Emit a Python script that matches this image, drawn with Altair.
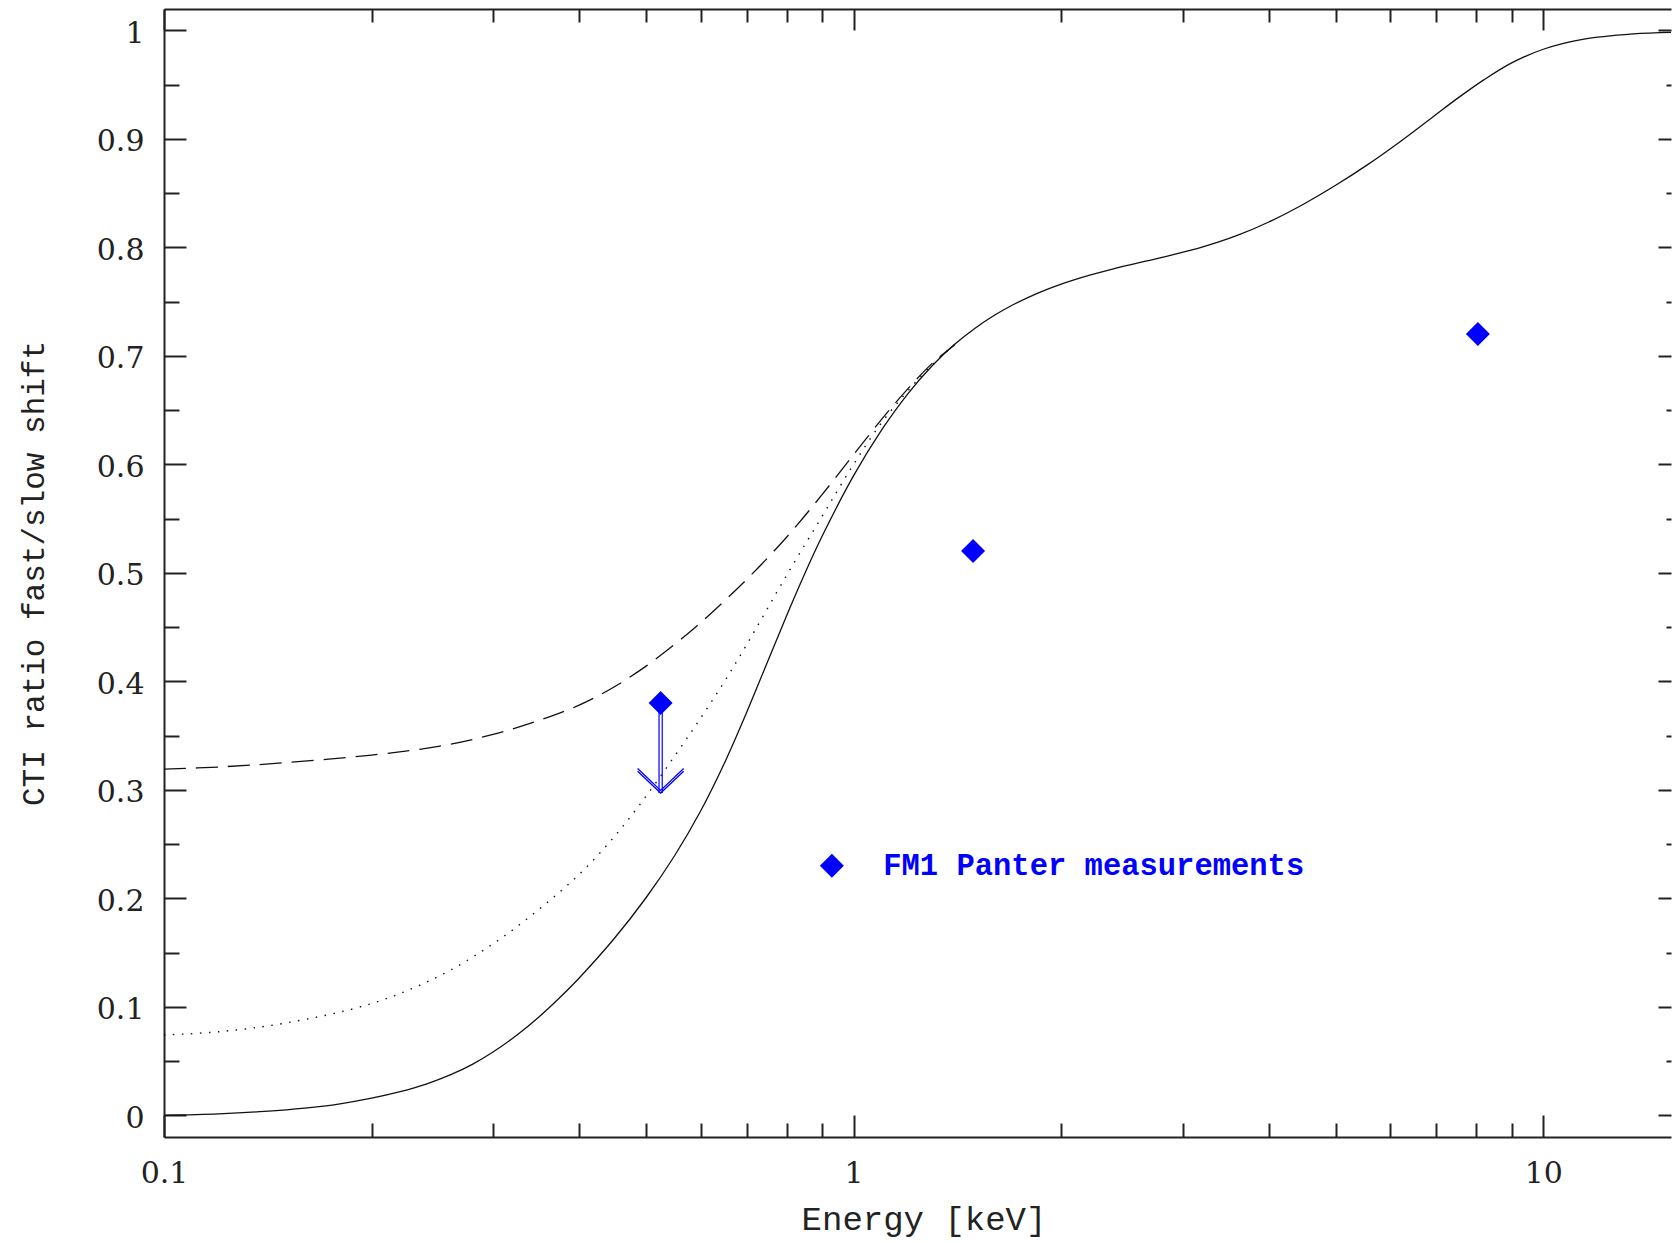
import altair as alt
import pandas as pd

# ---------------- data ----------------
# solid curve
E_solid = [0.1, 0.12, 0.14, 0.16, 0.18, 0.2, 0.22, 0.24, 0.26, 0.28,
           0.3, 0.325, 0.35, 0.375, 0.4, 0.45, 0.5, 0.55, 0.6, 0.65,
           0.7, 0.75, 0.8, 0.85, 0.9, 1.0, 1.1, 1.2, 1.3, 1.4,
           1.5, 1.6, 1.7, 1.85, 2.0, 2.2, 2.4, 2.65, 2.9, 3.2,
           3.6, 4.0, 4.45, 5.0, 5.55, 6.2, 6.93, 7.5, 8.2, 9.0,
           10.0, 11.4, 13.5, 15.32]
v_solid = [0.0000, 0.0014, 0.0036, 0.0066, 0.0106, 0.0158, 0.0218, 0.0288, 0.0372, 0.0470,
           0.0583, 0.0740, 0.0909, 0.1086, 0.1266, 0.1632, 0.2005, 0.2392, 0.2804, 0.3249,
           0.3716, 0.4178, 0.4609, 0.4996, 0.5336, 0.5895, 0.6323, 0.6654, 0.6908, 0.7103,
           0.7254, 0.7373, 0.7468, 0.7578, 0.7661, 0.7744, 0.7807, 0.7872, 0.7930, 0.8001,
           0.8109, 0.8233, 0.8383, 0.8571, 0.8757, 0.8973, 0.9205, 0.9370, 0.9543, 0.9699,
           0.9825, 0.9916, 0.9967, 0.9981]

# dotted curve
E_dot = [0.1, 0.12, 0.15, 0.2, 0.25, 0.3, 0.35, 0.4, 0.45, 0.5,
         0.55, 0.6, 0.65, 0.7, 0.8, 0.9, 1.0, 1.1, 1.2, 1.3, 1.4]
v_dot = [0.074, 0.077, 0.085, 0.103, 0.128, 0.158, 0.190, 0.222, 0.257, 0.294,
         0.331, 0.366, 0.400, 0.434, 0.498, 0.552, 0.600, 0.639, 0.668, 0.692, 0.710]

# dashed curve
E_dash = [0.1, 0.12, 0.15, 0.2, 0.25, 0.3, 0.35, 0.4, 0.45, 0.5,
          0.55, 0.6, 0.7, 0.8, 0.9, 1.0, 1.1, 1.2, 1.3, 1.4]
v_dash = [0.319, 0.321, 0.325, 0.332, 0.340, 0.351, 0.364, 0.378, 0.395, 0.414,
          0.434, 0.454, 0.494, 0.533, 0.572, 0.609, 0.642, 0.670, 0.693, 0.710]

# FM1 Panter measurements
E_meas = [0.525, 1.49, 8.04]
v_meas = [0.38, 0.52, 0.72]

# upper limit arrow on the first measurement
E_limit = [0.525]
v_limit_from = [0.38]
v_limit_to = [0.297]

# legend entry
E_leg_symbol = [0.93]
E_leg_text = [1.104]
v_leg = [0.23]
leg_label = ["FM1 Panter measurements"]

# axis ticks
x_major = [0.1, 1, 10]
x_minor = [0.2, 0.3, 0.4, 0.5, 0.6, 0.7, 0.8, 0.9, 2, 3, 4, 5, 6, 7, 8, 9]
y_major = [0, 0.1, 0.2, 0.3, 0.4, 0.5, 0.6, 0.7, 0.8, 0.9, 1]
y_minor = [0.05, 0.15, 0.25, 0.35, 0.45, 0.55, 0.65, 0.75, 0.85, 0.95]

X_DOMAIN = [0.1, 15.32]
Y_DOMAIN = [-0.0200, 1.0196]

# ---------------- styling ----------------
W, H = 1507, 1128
AX = "#222222"
INK = "#111111"
BLUE = "#0000ff"
SERIF = "DejaVu Serif"
MONO = "Liberation Mono"

xs = alt.Scale(type="log", domain=X_DOMAIN, nice=False)
ys = alt.Scale(type="linear", domain=Y_DOMAIN, nice=False, zero=False)


def tick_axis(orient, values, size):
    return alt.Axis(orient=orient, values=values, labels=False, domain=False,
                    ticks=True, tickSize=size, offset=-size, tickWidth=2,
                    tickColor=AX, grid=False, title=None)


y_label_axis = alt.Axis(
    orient="left", values=y_major, format="~g", ticks=False, tickSize=0,
    domain=True, domainColor=AX, domainWidth=2, grid=False,
    labelFont=SERIF, labelFontSize=30, labelColor=AX, labelPadding=20,
    labelOffset=3, labelFlush=False, labelOverlap=False,
    labelAlign="right", labelBaseline="middle",
    title="CTI ratio fast/slow shift", titleFont=MONO, titleFontSize=31,
    titleFontWeight="normal", titleColor=AX, titleAngle=270,
    titleAlign="center", titleBaseline="alphabetic", titleX=-121, titleY=564)

x_label_axis = alt.Axis(
    orient="bottom", values=x_major, format="~g", ticks=False, tickSize=0,
    domain=True, domainColor=AX, domainWidth=2, grid=False,
    labelFont=SERIF, labelFontSize=30, labelColor=AX, labelPadding=21,
    labelFlush=False, labelOverlap=False, labelAlign="center",
    labelBaseline="top",
    title="Energy [keV]", titleFont=MONO, titleFontSize=34,
    titleFontWeight="normal", titleColor=AX, titleAlign="center",
    titleBaseline="alphabetic", titleX=759.5, titleY=92)

x_top_axis = alt.Axis(orient="top", values=x_major, labels=False, ticks=False,
                      tickSize=0, domain=True, domainColor=AX, domainWidth=2,
                      grid=False, title=None)

axis_pairs = [
    (x_label_axis, y_label_axis),
    (tick_axis("bottom", x_major, 22), tick_axis("left", y_major, 22)),
    (tick_axis("bottom", x_minor, 14), tick_axis("left", y_minor, 15)),
    (x_top_axis, tick_axis("right", y_major, 13)),
    (tick_axis("top", x_major, 21), tick_axis("right", y_minor, 5)),
    (tick_axis("top", x_minor, 13), None),
]

meas = pd.DataFrame({"E": E_meas, "v": v_meas})

layers = []
for xa, ya in axis_pairs:
    layers.append(
        alt.Chart(meas).mark_point(opacity=0).encode(
            x=alt.X("E:Q", scale=xs, axis=xa),
            y=alt.Y("v:Q", scale=ys, axis=ya),
        )
    )


def curve(E, v, width, dash=None):
    df = pd.DataFrame({"E": E, "v": v})
    kw = dict(color=INK, strokeWidth=width, interpolate="catmull-rom", clip=True)
    if dash is not None:
        kw["strokeDash"] = dash
    return alt.Chart(df).mark_line(**kw).encode(
        x=alt.X("E:Q", scale=xs, axis=None),
        y=alt.Y("v:Q", scale=ys, axis=None),
    )


layers.append(curve(E_solid, v_solid, 1.3))
layers.append(curve(E_dot, v_dot, 1.4, [1.5, 7.5]))
layers.append(curve(E_dash, v_dash, 1.3, [22, 10]))

lim = pd.DataFrame({"E": E_limit, "v": v_limit_from, "v2": v_limit_to})
for off in (-1.6, 1.6):
    layers.append(
        alt.Chart(lim).mark_rule(color=BLUE, strokeWidth=1.2, xOffset=off).encode(
            x=alt.X("E:Q", scale=xs, axis=None),
            y=alt.Y("v:Q", scale=ys, axis=None),
            y2="v2:Q",
        )
    )
for off in (0, -2.6):
    layers.append(
        alt.Chart(lim).mark_point(shape="M-1,-0.95L0,0L1,-0.95", size=2116,
                                  filled=False, color=BLUE, strokeWidth=1.3,
                                  opacity=1, yOffset=off).encode(
            x=alt.X("E:Q", scale=xs, axis=None),
            y=alt.Y("v2:Q", scale=ys, axis=None),
        )
    )

layers.append(
    alt.Chart(meas).mark_point(shape="diamond", filled=True, size=576,
                               color=BLUE, opacity=1, strokeWidth=0).encode(
        x=alt.X("E:Q", scale=xs, axis=None),
        y=alt.Y("v:Q", scale=ys, axis=None),
    )
)

leg = pd.DataFrame({"E": E_leg_symbol, "Et": E_leg_text, "v": v_leg,
                    "label": leg_label})
layers.append(
    alt.Chart(leg).mark_point(shape="diamond", filled=True, size=576,
                              color=BLUE, opacity=1, strokeWidth=0).encode(
        x=alt.X("E:Q", scale=xs, axis=None),
        y=alt.Y("v:Q", scale=ys, axis=None),
    )
)
layers.append(
    alt.Chart(leg).mark_text(align="left", baseline="middle", font=MONO,
                             fontSize=30.5, fontWeight="bold", color=BLUE).encode(
        x=alt.X("Et:Q", scale=xs, axis=None),
        y=alt.Y("v:Q", scale=ys, axis=None),
        text="label:N",
    )
)

chart = (
    alt.layer(*layers)
    .resolve_axis(x="independent", y="independent")
    .properties(width=W, height=H, autosize="none",
                padding={"left": 164, "top": 9, "right": 1, "bottom": 106},
                background="white")
    .configure_view(stroke="transparent")
)

chart.save("out.html", embed_options={"renderer": "svg", "actions": False})
